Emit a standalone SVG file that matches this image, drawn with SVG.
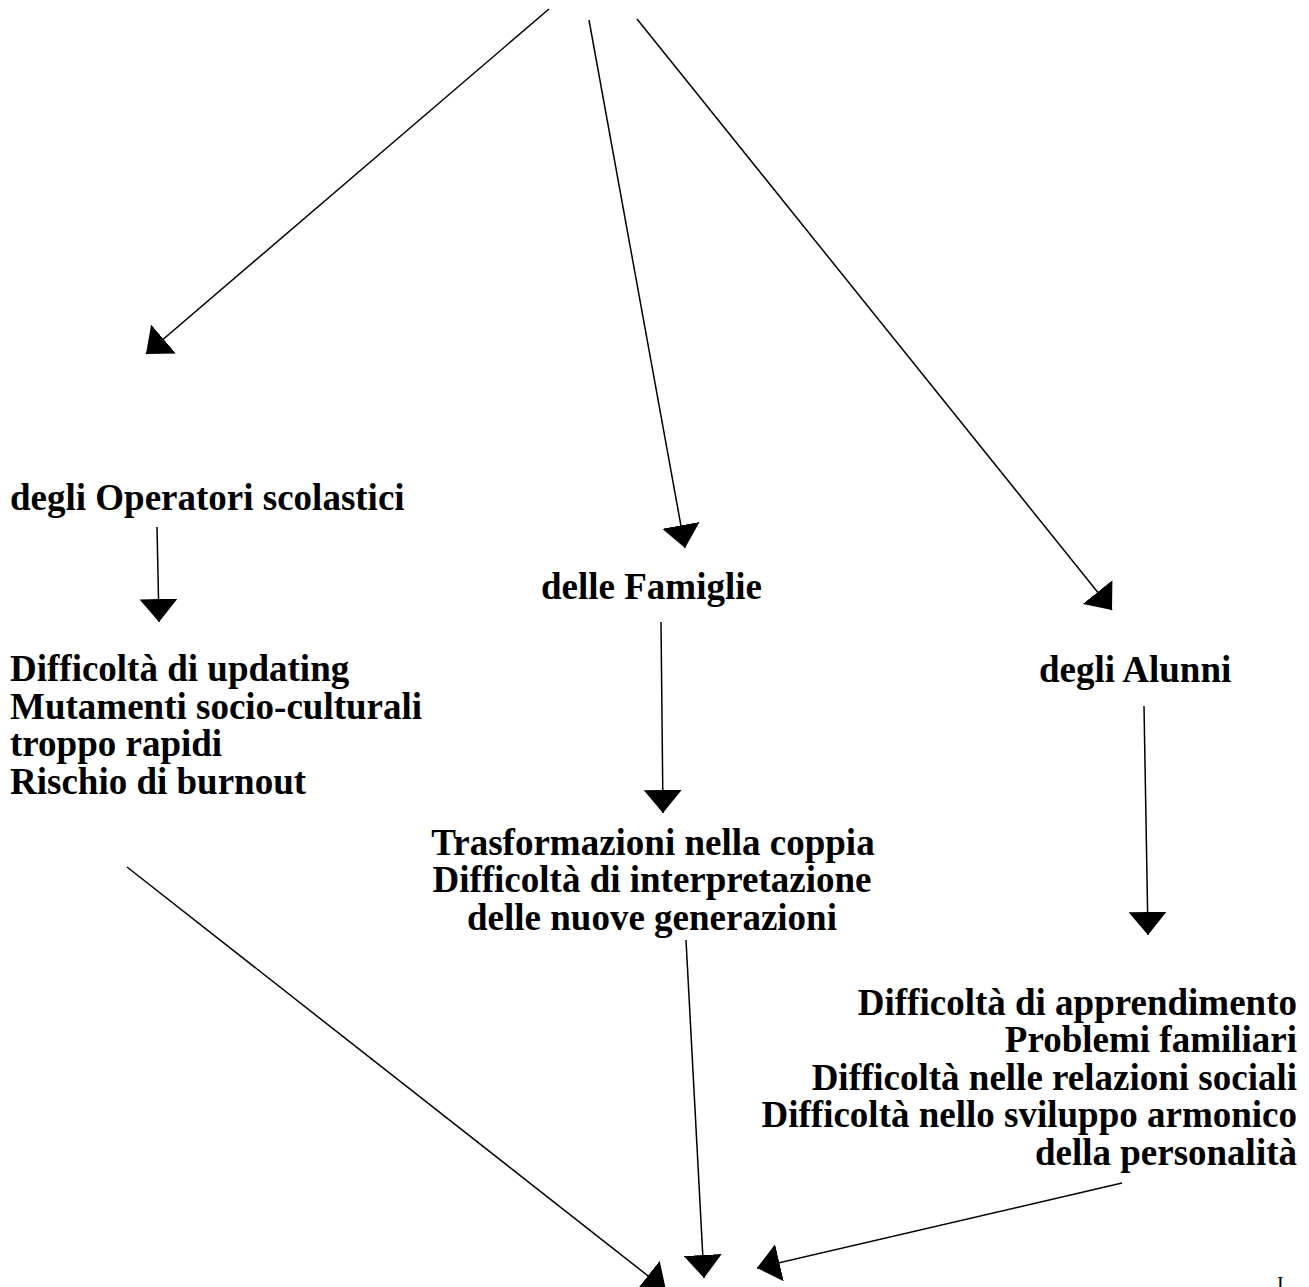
<svg xmlns="http://www.w3.org/2000/svg" width="1309" height="1287" viewBox="0 0 1309 1287">
<style>
.t{font-family:"Liberation Serif","Times New Roman",serif;font-weight:bold;font-size:37px;fill:#000}
.c{stroke:#000;stroke-width:1.5;fill:none;marker-end:url(#ah)}
</style>
<defs>
<marker id="ah" markerUnits="userSpaceOnUse" markerWidth="23" markerHeight="38" refX="23" refY="19" orient="auto" viewBox="0 0 23 38">
<path d="M0,0 L23,19 L0,38 z" fill="#000"/>
</marker>
</defs>
<rect width="1309" height="1287" fill="#fff"/>
<g id="connectors">
<line class="c" x1="549" y1="9" x2="146" y2="354"/>
<line class="c" x1="589" y1="20" x2="685" y2="548"/>
<line class="c" x1="637" y1="19" x2="1112" y2="610"/>
<line class="c" x1="157" y1="527" x2="159" y2="622"/>
<line class="c" x1="661" y1="622" x2="663" y2="813"/>
<line class="c" x1="1144" y1="706" x2="1148" y2="935"/>
<line class="c" x1="127" y1="867" x2="666" y2="1290"/>
<line class="c" x1="686" y1="940" x2="704" y2="1278"/>
<line class="c" x1="1122" y1="1183" x2="757" y2="1268"/>
</g>
<g id="operatori">
<text class="t" x="10" y="510">degli Operatori scolastici</text>
</g>
<g id="famiglie">
<text class="t" x="541" y="599">delle Famiglie</text>
</g>
<g id="alunni">
<text class="t" x="1039" y="682">degli Alunni</text>
</g>
<g id="operatori-problemi">
<text class="t" x="10" y="681">Difficoltà di updating</text>
<text class="t" x="10" y="719">Mutamenti socio-culturali</text>
<text class="t" x="10" y="756">troppo rapidi</text>
<text class="t" x="10" y="794">Rischio di burnout</text>
</g>
<g id="famiglie-problemi">
<text class="t" x="653" y="855" text-anchor="middle">Trasformazioni nella coppia</text>
<text class="t" x="652" y="892" text-anchor="middle">Difficoltà di interpretazione</text>
<text class="t" x="652" y="930" text-anchor="middle">delle nuove generazioni</text>
</g>
<g id="alunni-problemi">
<text class="t" x="1297" y="1015" text-anchor="end">Difficoltà di apprendimento</text>
<text class="t" x="1297" y="1052" text-anchor="end">Problemi familiari</text>
<text class="t" x="1297" y="1090" text-anchor="end">Difficoltà nelle relazioni sociali</text>
<text class="t" x="1297" y="1127" text-anchor="end">Difficoltà nello sviluppo armonico</text>
<text class="t" x="1297" y="1165" text-anchor="end">della personalità</text>
</g>
<g id="page-mark">
<text x="1277" y="1291" style="font-family:'Liberation Serif',serif;font-size:20px;fill:#000">I</text>
</g>
</svg>
